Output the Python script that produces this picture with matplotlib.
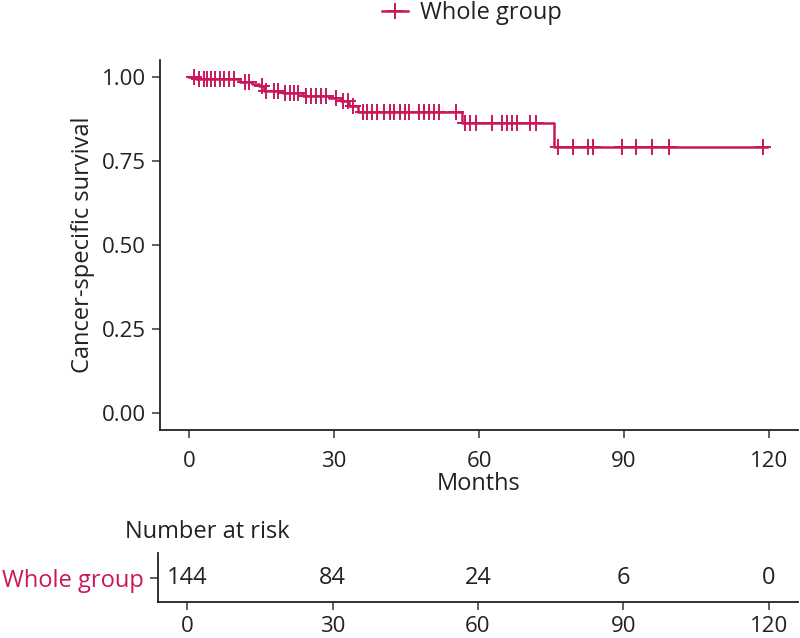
import numpy as np
import matplotlib.pyplot as plt

plt.rcParams['font.family'] = ['Open Sans', 'DejaVu Sans']

red = '#C8175A'

# Kaplan-Meier steps
step_t = [0, 1.5, 10.5, 13, 14.5, 15.5, 19.5, 23.5, 29, 31.5, 33, 35, 56.5, 75.5]
step_s = [1.0, 0.993, 0.986, 0.979, 0.972, 0.958, 0.951, 0.944, 0.937, 0.929,
          0.913, 0.894, 0.864, 0.791]
end_t = 119.5

# censored observations
censor_t = [1, 2, 3, 3.7, 4.6, 5.4, 6.4, 7.2, 8.2, 9.4, 11.5, 12.5, 15, 16,
            17.5, 18.5, 19.8, 20.8, 21.8, 22.6, 24.2, 25.3, 26.3, 27.3, 28.4,
            30.4, 31.8, 32.9, 34, 36, 36.8, 37.8, 38.8, 40.3, 41.5, 42.5, 43.6,
            44.7, 45.6, 47.6, 48.7, 49.7, 50.7, 51.7, 55.3, 57.2, 58.2, 59.3,
            62.7, 64.8, 65.8, 66.8, 67.8, 70.6, 71.7, 76.4, 79.5, 82.6, 83.6,
            89.6, 92.5, 95.7, 99.4, 118.8]

risk_t = [0, 30, 60, 90, 120]
risk_n = [144, 84, 24, 6, 0]

x_ticks = [0, 30, 60, 90, 120]
y_ticks = [0, 0.25, 0.5, 0.75, 1.0]

txt = '#222222'
fs_lab = 17
fs_tick = 16

fig = plt.figure(figsize=(8, 6.38), dpi=100)
ax = fig.add_axes([0.2, 0.326, 0.7975, 0.58])
ax_r = fig.add_axes([0.1975, 0.0564, 0.8, 0.0768])

# curve
xs = step_t + [end_t]
ys = step_s + [step_s[-1]]
ax.plot(xs, ys, drawstyle='steps-post', color=red, lw=1.8)
idx = np.searchsorted(step_t, censor_t, side='right') - 1
cy = np.array(step_s)[idx]
ax.plot(censor_t, cy, ls='none', marker='+', color=red, ms=12, mew=1.4)

ax.set_xlim(-6, 126)
ax.set_ylim(-0.05, 1.05)
ax.set_xticks(x_ticks)
ax.set_yticks(y_ticks)
ax.set_yticklabels(['%.2f' % v for v in y_ticks])
ax.set_xlabel('Months', fontsize=fs_lab, color=txt, labelpad=0)
ax.set_ylabel('Cancer-specific survival', fontsize=fs_lab, color=txt, labelpad=5)

for a in (ax, ax_r):
    for s in ('top', 'right'):
        a.spines[s].set_visible(False)
    for s in ('left', 'bottom'):
        a.spines[s].set_linewidth(1.3)
        a.spines[s].set_color(txt)
    a.tick_params(labelsize=fs_tick, labelcolor=txt, color='#333333',
                  length=6, width=1.1, pad=4)
ax.tick_params(axis='x', pad=9)
ax_r.tick_params(axis='x', pad=4)
ax_r.tick_params(axis='y', labelsize=fs_lab)

# legend at top
h, = ax.plot([], [], color=red, lw=1.8, marker='+', ms=12, mew=1.4)
fig.legend([h], ['Whole group'], loc='center left', bbox_to_anchor=(0.478, 0.979),
           frameon=False, fontsize=fs_lab, handlelength=1.1, handletextpad=0.5,
           labelcolor=txt, borderaxespad=0, borderpad=0)

# number at risk table
ax_r.set_xlim(-6, 126)
ax_r.set_ylim(0, 1)
ax_r.set_xticks(x_ticks)
ax_r.set_yticks([0.5])
ax_r.set_yticklabels(['Whole group'])
ax_r.get_yticklabels()[0].set_color(red)
for t, n in zip(risk_t, risk_n):
    ax_r.text(t, 0.5, str(n), ha='center', va='center', fontsize=fs_lab,
              color=txt)
fig.text(0.156, 0.166, 'Number at risk', fontsize=fs_lab, color=txt,
         va='center', ha='left')

fig.savefig('out.png', dpi=100)
